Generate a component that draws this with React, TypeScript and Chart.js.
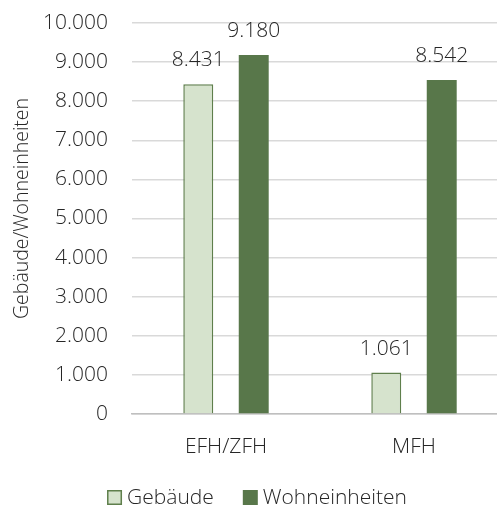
import React, { useEffect, useRef } from "react";
import { Chart, registerables } from "chart.js";

Chart.register(...registerables);

const categories = ["EFH/ZFH", "MFH"];
const gebaeude = [8431, 1061];
const wohneinheiten = [9180, 8542];
const seriesNames = ["Gebäude", "Wohneinheiten"];
const axisTitle = "Gebäude/Wohneinheiten";

const FONT = "'Open Sans', 'Noto Sans', sans-serif";
const TEXT = "#262626";
const LIGHT = "#d6e3cd";
const EDGE = "#5f7f4c";
const DARK = "#58774a";

const fmt = (v: number) =>
  String(Math.round(v)).replace(/\B(?=(\d{3})+(?!\d))/g, ".");

// Numbers above every bar
const valueLabels = {
  id: "valueLabels",
  afterDatasetsDraw(chart: any) {
    const ctx = chart.ctx;
    ctx.save();
    ctx.font = `300 21px ${FONT}`;
    ctx.fillStyle = TEXT;
    ctx.textAlign = "center";
    ctx.textBaseline = "alphabetic";
    chart.data.datasets.forEach((ds: any, i: number) => {
      const meta = chart.getDatasetMeta(i);
      meta.data.forEach((bar: any, j: number) => {
        ctx.fillText(fmt(ds.data[j]), bar.x, bar.y - 18);
      });
    });
    ctx.restore();
  },
};

// Rotated value-axis title, set a little above the plot's middle
const sideTitle = {
  id: "sideTitle",
  afterDraw(chart: any) {
    const ctx = chart.ctx;
    const area = chart.chartArea;
    ctx.save();
    ctx.font = `300 19.5px ${FONT}`;
    ctx.fillStyle = TEXT;
    ctx.textAlign = "center";
    ctx.textBaseline = "middle";
    ctx.translate(22, (area.top + area.bottom) / 2 - 10);
    ctx.rotate(-Math.PI / 2);
    ctx.fillText(axisTitle, 0, 0);
    ctx.restore();
  },
};

// Legend row under the axis, boxes close to their text
const bottomLegend = {
  id: "bottomLegend",
  afterDraw(chart: any) {
    const ctx = chart.ctx;
    ctx.save();
    ctx.font = `300 21px ${FONT}`;
    ctx.textBaseline = "alphabetic";
    ctx.textAlign = "left";
    const box = 15;
    const gap = 5;
    const spacing = 29;
    const items = chart.data.datasets.map((ds: any) => ({
      label: ds.label as string,
      fill: ds.backgroundColor as string,
      stroke: ds.borderColor as string,
      bw: ds.borderWidth as number,
      w: ctx.measureText(ds.label).width,
    }));
    const total =
      items.reduce((a: number, it: any) => a + box + gap + it.w, 0) +
      spacing * (items.length - 1);
    let x = 257 - total / 2;
    const boxTop = 490;
    const baseline = 504;
    items.forEach((it: any) => {
      ctx.fillStyle = it.fill;
      ctx.fillRect(x, boxTop, box, box);
      if (it.bw > 0) {
        ctx.strokeStyle = it.stroke;
        ctx.lineWidth = 1.5;
        ctx.strokeRect(x + 0.75, boxTop + 0.75, box - 1.5, box - 1.5);
      }
      ctx.fillStyle = TEXT;
      ctx.fillText(it.label, x + box + gap, baseline);
      x += box + gap + it.w + spacing;
    });
    ctx.restore();
  },
};

export default function App() {
  const ref = useRef<HTMLCanvasElement>(null);

  useEffect(() => {
    if (!ref.current) return;
    const chart = new Chart(ref.current, {
      type: "bar",
      data: {
        labels: categories,
        datasets: [
          {
            label: seriesNames[0],
            data: gebaeude,
            backgroundColor: LIGHT,
            borderColor: EDGE,
            borderWidth: 1.5,
            categoryPercentage: 0.59,
            barPercentage: 0.54,
          },
          {
            label: seriesNames[1],
            data: wohneinheiten,
            backgroundColor: DARK,
            borderColor: DARK,
            borderWidth: 0,
            categoryPercentage: 0.59,
            barPercentage: 0.54,
          },
        ],
      },
      options: {
        animation: false,
        responsive: false,
        maintainAspectRatio: false,
        layout: { padding: { top: 23, left: 0, right: 4, bottom: 23 } },
        plugins: {
          tooltip: { enabled: false },
          legend: { display: false },
        },
        scales: {
          x: {
            grid: { display: false, drawTicks: false },
            border: { color: "#bfbfbf", width: 1.5 },
            ticks: {
              color: TEXT,
              padding: 20,
              font: { family: FONT, size: 21, weight: "300" },
            },
            afterFit: (s: any) => {
              s.height = 71;
            },
          },
          y: {
            min: 0,
            max: 10000,
            grid: {
              color: "#d9d9d9",
              lineWidth: 1.5,
              drawTicks: true,
              tickLength: 24,
              tickColor: "rgba(0,0,0,0)",
            },
            border: { display: false },
            ticks: {
              stepSize: 1000,
              padding: 0,
              color: TEXT,
              font: { family: FONT, size: 21, weight: "300" },
              callback: (v: any) => fmt(Number(v)),
            },
            afterFit: (s: any) => {
              s.width = 132;
            },
          },
        },
      },
      plugins: [valueLabels, sideTitle, bottomLegend],
    });
    return () => chart.destroy();
  }, []);

  return (
    <div
      style={{
        position: "fixed",
        left: 0,
        top: 0,
        width: 512,
        height: 508,
        background: "#fff",
      }}
    >
      <canvas ref={ref} width={512} height={508} />
    </div>
  );
}
